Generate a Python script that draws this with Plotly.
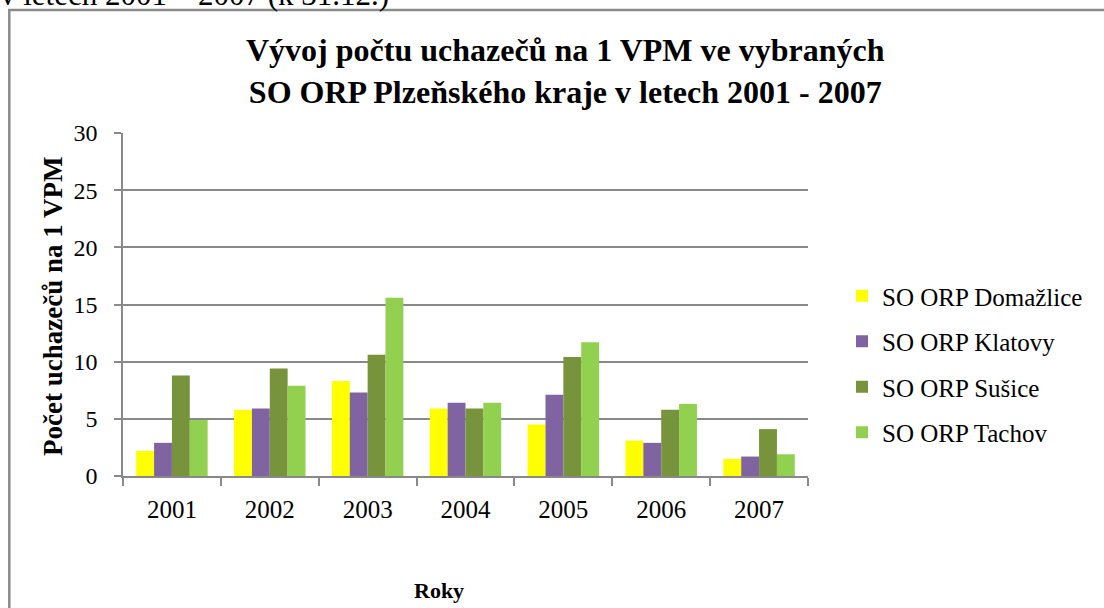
import plotly.graph_objects as go

years = ["2001", "2002", "2003", "2004", "2005", "2006", "2007"]
domazlice = [2.2, 5.8, 8.3, 5.9, 4.5, 3.1, 1.5]
klatovy = [2.9, 5.9, 7.3, 6.4, 7.1, 2.9, 1.7]
susice = [8.8, 9.4, 10.6, 5.9, 10.4, 5.8, 4.1]
tachov = [4.9, 7.9, 15.6, 6.4, 11.7, 6.3, 1.9]

series_names = ["SO ORP Domažlice", "SO ORP Klatovy", "SO ORP Sušice", "SO ORP Tachov"]
series_values = [domazlice, klatovy, susice, tachov]
colors = ["#FFFF00", "#8064A2", "#77933C", "#92D050"]

W, H = 1104, 608
L, R, T, B = 123, 808, 133, 476

def px(x):
    return (x - L) / (R - L)

def py(y):
    return (B - y) / (B - T)

FONT = "Liberation Serif"
GRAY = "#898989"

fig = go.Figure()
for i, (name, vals, col) in enumerate(zip(series_names, series_values, colors)):
    fig.add_trace(go.Bar(
        x=years, y=vals, name=name, marker_color=col,
        marker_line_width=0, legendgroup=str(i),
    ))

fig.update_layout(
    width=W, height=H,
    margin=dict(l=L, r=W - R, t=T, b=H - B, pad=0),
    paper_bgcolor="white", plot_bgcolor="white",
    barmode="group", bargap=0.27, bargroupgap=0,
    font=dict(family=FONT, color="black", size=24),
    showlegend=True,
    legend=dict(
        x=px(842), y=py(273), xanchor="left", yanchor="top",
        font=dict(family=FONT, size=25, color="black"),
        tracegroupgap=10, itemwidth=30, bgcolor="rgba(0,0,0,0)",
    ),
    xaxis=dict(
        showgrid=False, showline=True, linecolor=GRAY, linewidth=1.5,
        ticks="outside", tickson="boundaries", ticklen=8, tickcolor=GRAY,
        tickwidth=1.5, tickfont=dict(family=FONT, size=25), ticklabelstandoff=10,
    ),
    yaxis=dict(
        range=[0, 30], dtick=5, showgrid=True, gridcolor=GRAY, gridwidth=1.5,
        showline=True, linecolor=GRAY, linewidth=1.5,
        ticks="outside", ticklen=7, tickcolor=GRAY, tickwidth=1.5,
        tickfont=dict(family=FONT, size=24), zeroline=False, ticklabelstandoff=12,
    ),
    annotations=[
        dict(text="<b>Vývoj počtu uchazečů na 1 VPM ve vybraných<br>SO ORP Plzeňského kraje v letech 2001 - 2007</b>",
             xref="paper", yref="paper", x=px(565), y=py(71), xanchor="center", yanchor="middle",
             showarrow=False, font=dict(family=FONT, size=32, color="black")),
        dict(text="<b>Počet uchazečů na 1 VPM</b>", xref="paper", yref="paper", x=px(53), y=py(307),
             xanchor="center", yanchor="middle", textangle=-90, showarrow=False,
             font=dict(family=FONT, size=27, color="black")),
        dict(text="<b>Roky</b>", xref="paper", yref="paper", x=px(439), y=py(590),
             xanchor="center", yanchor="middle", showarrow=False,
             font=dict(family=FONT, size=22, color="black")),
        dict(text="v letech 2001 – 2007 (k 31.12.)", xref="paper", yref="paper", x=px(-2), y=py(-6),
             xanchor="left", yanchor="middle", showarrow=False,
             font=dict(family=FONT, size=31, color="black")),
    ],
    shapes=[
        dict(type="rect", xref="paper", yref="paper", x0=px(9.3), y0=py(10), x1=px(1120), y1=py(620),
             line=dict(color="#8a8a8a", width=2.5), fillcolor="rgba(0,0,0,0)", layer="below"),
    ],
)

fig.write_html("out.html", config={"displayModeBar": False},
               post_script="document.body.style.margin='0';")
